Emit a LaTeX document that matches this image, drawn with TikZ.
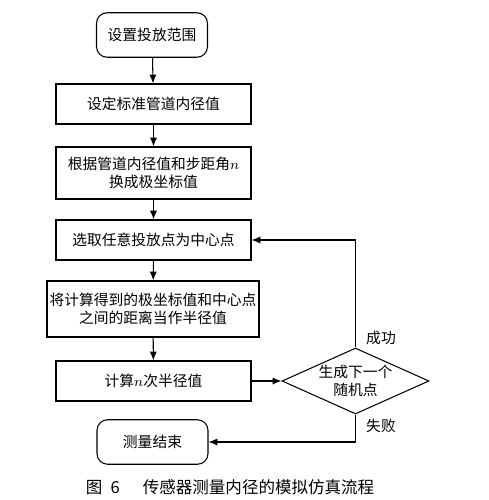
\documentclass[tikz,border=0pt]{standalone}
\usepackage{fontspec}
\usepackage{tikz}
\newfontfamily\cjk{Noto Sans CJK SC}
\usetikzlibrary{shapes.geometric}
\usetikzlibrary{arrows.meta}

\begin{document}
\begin{tikzpicture}[x=0.02cm,y=-0.02cm,
        box/.style={draw,semithick,minimum width=3.9cm,minimum height=0.8cm,
            align=center,inner sep=1pt,font=\cjk\fontsize{8.4}{10.5}\selectfont},
        term/.style={box,rounded corners=6pt,minimum width=2.22cm,minimum height=0.89cm},
        test/.style={draw,semithick,diamond,aspect=2.2,inner sep=0pt,minimum width=2.94cm,
            minimum height=1.32cm,align=center,font=\cjk\fontsize{8.4}{10.5}\selectfont},
        arr/.style={semithick,-{Latex[length=5pt,width=4pt]}},
        lbl/.style={font=\cjk\fontsize{8.4}{10.5}\selectfont}]
                    \useasboundingbox (0,0) rectangle (489,500);

                    \node[term] (start) at (152,35) {设置投放范围};
                    \node[box] (set) at (153.5,104) {设定标准管道内径值};
                    \node[box,minimum height=1.04cm] (conv) at (153.5,173) {根据管道内径值和步距角$n$\\换成极坐标值};
                    \node[box] (pick) at (153.5,240) {选取任意投放点为中心点};
                    \node[box,minimum width=4.24cm,minimum height=1.12cm] (dist) at (153,309) {将计算得到的极坐标值和中心点\\之间的距离当作半径值};
                    \node[box] (calc) at (153.5,381) {计算$n$次半径值};
                    \node[test] (gen) at (355.5,381) {生成下一个\\随机点};
                    \node[term] (stop) at (152.5,442) {测量结束};

                    \draw[arr] (start) -- (set);
                    \draw[arr] (set) -- (conv);
                    \draw[arr] (conv) -- (pick);
                    \draw[arr] (pick) -- (dist);
                    \draw[arr] (dist) -- (calc);
                    \draw[arr] (calc) -- (gen);
                    \draw[arr] (gen.north) |- (pick.east);
                    \draw[arr] (gen.south) |- (stop.east);

                    \node[lbl] (ok) at (381,338) {成功};
                    \node[lbl] (fail) at (381,426) {失败};

                    \node[font=\cjk\fontsize{9.4}{11}\selectfont] (cap) at (230,487) {图\hspace{0.5em}6\hspace{1.4em}传感器测量内径的模拟仿真流程};
                \end{tikzpicture}
\end{document}
